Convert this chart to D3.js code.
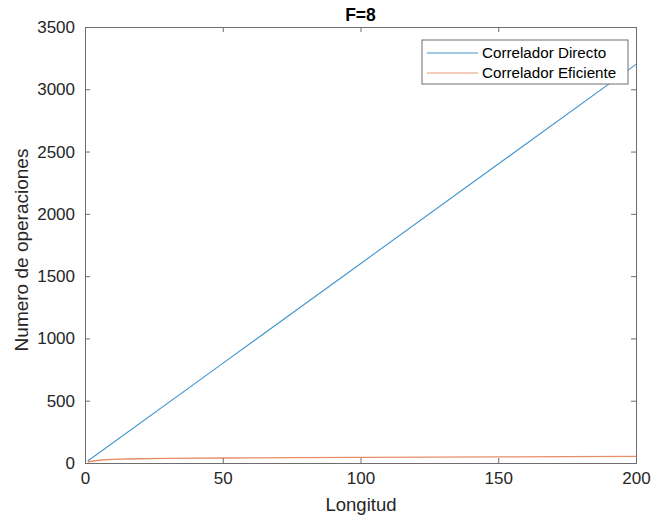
<!DOCTYPE html>
<html><head><meta charset="utf-8">
<script src="https://cdn.jsdelivr.net/npm/d3@7"></script>
<style>body{margin:0;background:#fff;} text{font-family:"Liberation Sans",Arial,sans-serif;}</style>
</head><body>
<svg id="c" width="670" height="520"></svg>
<script>
const title = "F=8";
const xLabel = "Longitud";
const yLabel = "Numero de operaciones";
const seriesNames = ["Correlador Directo", "Correlador Eficiente"];
const xTicks = [0, 50, 100, 150, 200];
const yTicks = [0, 500, 1000, 1500, 2000, 2500, 3000, 3500];
const directL = [1, 50, 100, 150, 200];
const directOps = [16, 800, 1600, 2400, 3200];
const efficientL = [1, 3, 6, 10, 15, 20, 30, 50, 75, 100, 125, 150, 175, 200];
const efficientOps = [8, 16, 24, 29, 32, 34, 37, 40, 43, 45, 47, 49, 51, 53];
const colors = ["#0072BD", "#D95319"];

const svg = d3.select("#c");
const L = 85, R = 636, T = 27, B = 463;
const x = d3.scaleLinear().domain([0, 200]).range([L, R]);
const y = d3.scaleLinear().domain([0, 3500]).range([B, T]);
const axCol = "#262626";
const lineCol = "#6e6e6e";

const line = d3.line().x(d => x(d[0])).y(d => y(d[1]));
svg.append("path").datum(directL.map((l, i) => [l, directOps[i]]))
  .attr("d", line).attr("fill", "none").attr("stroke", colors[0]).attr("stroke-opacity", 0.75).attr("stroke-width", 1.1);
svg.append("path").datum(efficientL.map((l, i) => [l, efficientOps[i]]))
  .attr("d", line).attr("fill", "none").attr("stroke", colors[1]).attr("stroke-opacity", 0.65).attr("stroke-width", 1.3);

// axes
const fs = "17px";
const xb = svg.append("g").attr("transform", `translate(0,${B})`)
  .call(d3.axisBottom(x).tickValues(xTicks).tickSize(-5).tickPadding(9).tickFormat(d3.format("d")));
const xt = svg.append("g").attr("transform", `translate(0,${T})`)
  .call(d3.axisTop(x).tickValues(xTicks).tickSize(-5).tickFormat(""));
const yl = svg.append("g").attr("transform", `translate(${L},0)`)
  .call(d3.axisLeft(y).tickValues(yTicks).tickSize(-5).tickPadding(10).tickFormat(d3.format("d")));
const yr = svg.append("g").attr("transform", `translate(${R},0)`)
  .call(d3.axisRight(y).tickValues(yTicks).tickSize(-5).tickFormat(""));
[xb, xt, yl, yr].forEach(g => {
  g.select(".domain").attr("stroke", lineCol).attr("stroke-width", 1);
  g.selectAll(".tick line").attr("stroke", lineCol).attr("stroke-width", 1);
  g.selectAll(".tick text").attr("fill", axCol).style("font-size", fs)
    .style("font-family", '"Liberation Sans",Arial,sans-serif');
});

svg.append("text").attr("x", (L + R) / 2).attr("y", 21).attr("text-anchor", "middle")
  .style("font-size", "17.5px").style("font-weight", "bold").attr("fill", "#000").text(title);
svg.append("text").attr("x", 361).attr("y", 511).attr("text-anchor", "middle")
  .style("font-size", "18.5px").attr("fill", axCol).text(xLabel);
svg.append("text").attr("transform", `translate(28,250) rotate(-90)`)
  .attr("text-anchor", "middle").style("font-size", "19px").attr("fill", axCol).text(yLabel);

// legend
const lg = svg.append("g");
lg.append("rect").attr("x", 422).attr("y", 40).attr("width", 206).attr("height", 44)
  .attr("fill", "#fff").attr("stroke", lineCol).attr("stroke-width", 1);
seriesNames.forEach((n, i) => {
  const yy = 53 + i * 20;
  lg.append("line").attr("x1", 427).attr("x2", 478).attr("y1", yy).attr("y2", yy)
    .attr("stroke", colors[i]).attr("stroke-opacity", i ? 0.6 : 0.75).attr("stroke-width", 1.1);
  lg.append("text").attr("x", 482).attr("y", yy + 5).style("font-size", "15.2px")
    .attr("fill", "#000").text(n);
});
</script>
</body></html>
